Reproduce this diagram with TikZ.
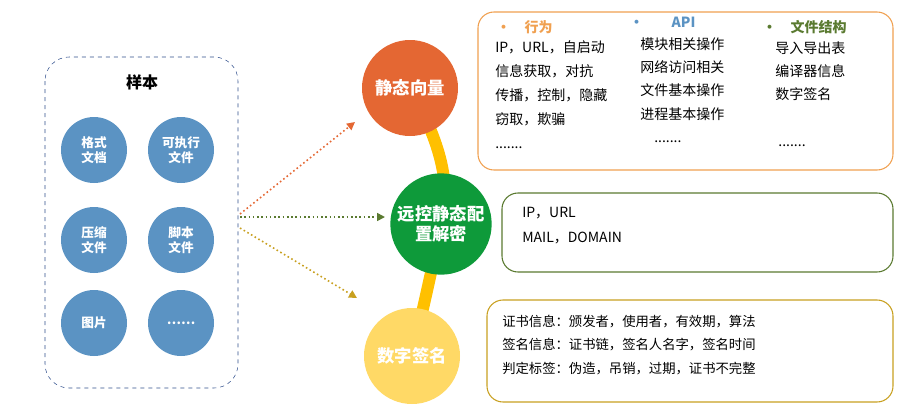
\documentclass[tikz,border=0pt]{standalone}
\usepackage{fontspec}
\newfontfamily\cjk{Noto Sans CJK SC}
\usetikzlibrary{arrows.meta}
\definecolor{sampleblue}{HTML}{5B93C3}
\definecolor{dashblue}{HTML}{2F4E8C}
\definecolor{staticor}{HTML}{E46733}
\definecolor{remotegr}{HTML}{0E9A3A}
\definecolor{signyel}{HTML}{FFD966}
\definecolor{linkyel}{HTML}{FFC000}
\definecolor{boxor}{HTML}{F0A050}
\definecolor{boxgr}{HTML}{5A7A30}
\definecolor{boxgold}{HTML}{C8A020}
\definecolor{apiblue}{HTML}{5B93C3}

\begin{document}
\begin{tikzpicture}
	[x=0.75pt,y=-0.75pt,font=\cjk\fontsize{10.5}{12}\selectfont,
		sample/.style={circle,fill=sampleblue,inner sep=0pt,minimum size=49.5pt,
		text=white,font=\cjk\bfseries\fontsize{9.5}{11}\selectfont,align=center},
		bigball/.style={circle,inner sep=0pt,text=white,
		font=\cjk\bfseries\fontsize{13}{15}\selectfont,align=center},
		infobox/.style={draw,rounded corners=12pt,line width=0.8pt},
		flow/.style={dotted,line width=1.2pt,-{Triangle[length=6pt,width=6pt]}}]
	\useasboundingbox (0,0) rectangle (906,415);

	% samples
	\draw[dashblue,dashed,rounded corners=18pt] (45,57) rectangle (238,388);
	\node[font=\cjk\bfseries\fontsize{12}{14}\selectfont] (title) at (142,82) {样本};
	\node (s1) at (94,150) [sample] {格式\\文档};
	\node (s2) at (181,150) [sample] {可执行\\文件};
	\node (s3) at (94,240) [sample] {压缩\\文件};
	\node (s4) at (181,240) [sample] {脚本\\文件};
	\node (s5) at (94,323) [sample] {图片};
	\node (s6) at (181,323) [sample] {……};

	% link line behind the balls
	\draw[linkyel,line width=9pt] (410,88) .. controls (445,150) and (450,190) .. (441,224)
		.. controls (432,270) and (425,300) .. (412,356);

	\node (static) at (410,88) [bigball,fill=staticor,minimum size=72pt] {静态向量};
	\node (remote) at (441,224) [bigball,fill=remotegr,minimum size=76pt] {远控静态配\\置解密};
	\node (sign) at (412,356) [bigball,fill=signyel,minimum size=72pt] {数字签名};

	\coordinate (src1) at (240,214);
	\coordinate (src2) at (240,217);
	\coordinate (src3) at (240,228);
	\coordinate (dst1) at (355,122);
	\coordinate (dst2) at (385,217);
	\coordinate (dst3) at (357,298);
	\draw[flow,staticor] (src1) -- (dst1);
	\draw[flow,boxgr] (src2) -- (dst2);
	\draw[flow,boxgold] (src3) -- (dst3);

	% info boxes
	\draw[infobox,boxor] (478,12) rectangle (893,170);
	\draw[infobox,boxgr] (502,193) rectangle (893,272);
	\draw[infobox,boxgold] (487,300) rectangle (893,402);

	\node[anchor=west,text=boxor,font=\cjk\bfseries\fontsize{10.5}{11}\selectfont] (beh) at (492,27) {•\quad 行为};
	\node[anchor=west,text=apiblue,font=\cjk\bfseries\fontsize{10.5}{11}\selectfont] (api) at (625,22) {•\qquad API};
	\node[anchor=west,text=boxgr,font=\cjk\bfseries\fontsize{10.5}{11}\selectfont] (fst) at (758,27) {•\quad 文件结构};
	\node[anchor=north west,align=left,inner sep=0pt,font=\cjk\fontsize{10.5}{18}\selectfont] (behtxt) at (495,40)
		{IP，URL，自启动\\信息获取，对抗\\传播，控制，隐藏\\窃取，欺骗\\.......};
	\node[anchor=north west,align=left,inner sep=0pt,font=\cjk\fontsize{10.5}{17.5}\selectfont] (apitxt) at (640,37)
		{模块相关操作\\网络访问相关\\文件基本操作\\进程基本操作\\\quad .......};
	\node[anchor=north west,align=left,inner sep=0pt,font=\cjk\fontsize{10.5}{17.5}\selectfont] (fsttxt) at (775,41)
		{导入导出表\\编译器信息\\数字签名\\\\\ .......};

	\node[anchor=north west,align=left,inner sep=0pt,font=\cjk\fontsize{10.5}{19}\selectfont] (remtxt) at (522,207)
		{IP，URL\\MAIL，DOMAIN};
	\node[anchor=north west,align=left,inner sep=0pt,font=\cjk\fontsize{10}{17.5}\selectfont] (signtxt) at (502,315)
		{证书信息：颁发者，使用者，有效期，算法\\签名信息：证书链，签名人名字，签名时间\\判定标签：伪造，吊销，过期，证书不完整};
\end{tikzpicture}
\end{document}
